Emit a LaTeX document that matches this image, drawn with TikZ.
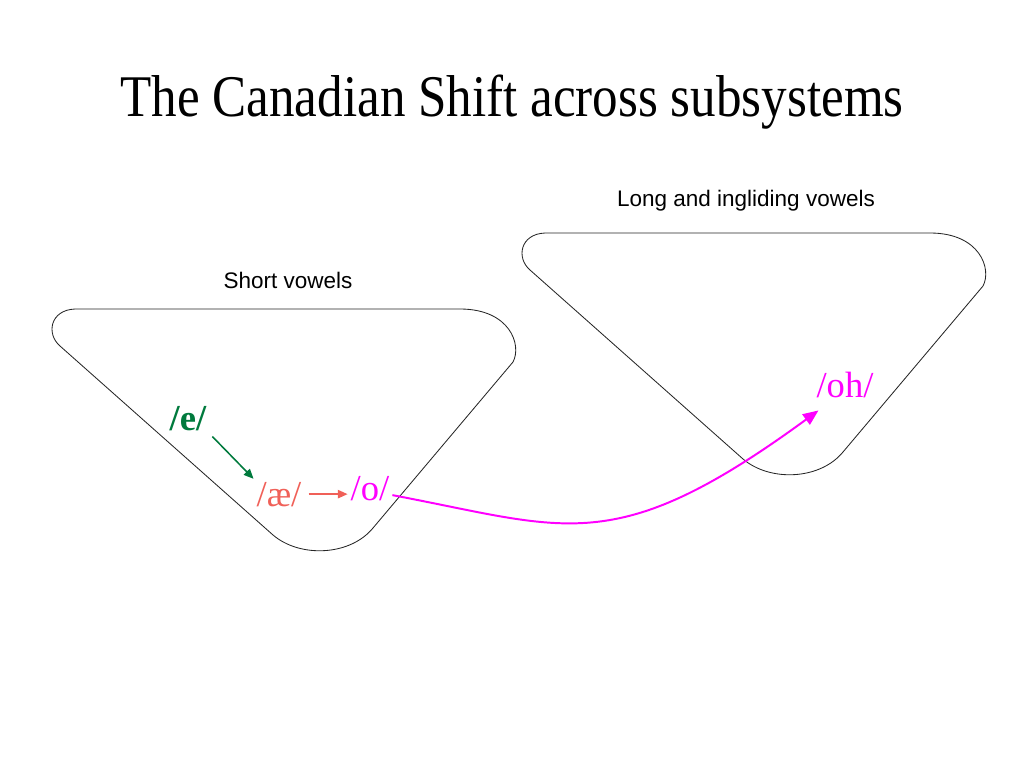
\documentclass[tikz,border=0pt]{standalone}
\usepackage{fontspec}
\setmainfont{Liberation Serif}
\setsansfont{Liberation Sans}
\usepackage{tikz}
\usepackage{graphicx}
\usetikzlibrary{arrows.meta,positioning}
\definecolor{egreen}{RGB}{0,122,61}
\definecolor{aesalmon}{RGB}{240,96,88}
\definecolor{omagenta}{RGB}{255,0,255}
\tikzstyle{triangleshape} = [draw=black!85, line width=0.6pt, line join=round]
\tikzstyle{vowel} = [inner sep=2pt, font=\fontsize{26}{30}\selectfont]
\tikzstyle{setlabel} = [font=\sffamily\fontsize{16}{19}\selectfont]
\tikzstyle{arrow} = [line width=1.1pt, -{Triangle[length=7pt,width=6pt]}]
\tikzstyle{bigarrow} = [line width=1.4pt, -{Triangle[length=11pt,width=9pt]}]

\begin{document}
\begin{tikzpicture}[x=0.025cm,y=-0.025cm]
\useasboundingbox (0,0) rectangle (1024,768);
%%
\node (title) at (512,117) [anchor=base] {\fontsize{42}{50}\selectfont\scalebox{0.865}[1]{The Canadian Shift across subsystems}};
\node (shortlabel) at (288,288) [setlabel,anchor=base] {Short vowels};
\node (longlabel) at (746,206) [setlabel,anchor=base] {Long and ingliding vowels};
% vowel spaces
\draw[triangleshape] (75,309) -- (460,309) .. controls (510,309) and (522,345) .. (513,362) -- (373,528) .. controls (350,556) and (300,558) .. (273,535) -- (60,346) .. controls (46,334) and (50,310) .. cycle;
\begin{scope}[shift={(470,-76)}]
\draw[triangleshape] (75,309) -- (460,309) .. controls (510,309) and (522,345) .. (513,362) -- (373,528) .. controls (350,556) and (300,558) .. (273,535) -- (60,346) .. controls (46,334) and (50,310) .. cycle;
\end{scope}
% vowels
\node (e) at (188,430) [vowel,text=egreen,anchor=base] {\bfseries /e/};
\node (ae) at (279,506) [vowel,text=aesalmon,anchor=base] {/æ/};
\node (o) at (370,500) [vowel,text=omagenta,anchor=base] {/o/};
\node (oh) at (845,397) [vowel,text=omagenta,anchor=base] {/oh/};
\draw [arrow,egreen,shorten <=3pt] (e.south east) -- (ae.north west);
\draw [arrow,aesalmon,shorten <=3pt] (ae.east) -- (ae.east -| o.west);
\draw [bigarrow,omagenta] ([shift={(0,7)}]o.east) .. controls (567,528) and (614,560) .. ([shift={(5,10)}]oh.south west);
%
\end{tikzpicture}
\end{document}
